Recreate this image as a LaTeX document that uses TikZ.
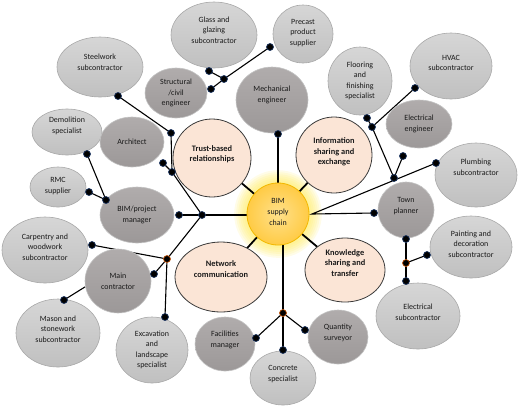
\documentclass[tikz,border=0pt]{standalone}
\usepackage{fontspec}
\setmainfont{Carlito}
\usetikzlibrary{shapes.geometric}
\definecolor{lgtop}{HTML}{D6D6D6}
\definecolor{lgbot}{HTML}{C0C0C0}
\definecolor{lgline}{HTML}{A8A8A8}
\definecolor{dgtop}{HTML}{B0ACAC}
\definecolor{dgbot}{HTML}{9C9898}
\definecolor{dgline}{HTML}{C4C4C4}
\definecolor{pcfill}{HTML}{FBE5D6}
\definecolor{pcline}{HTML}{3A3A3A}
\definecolor{bimin}{HTML}{FFE08A}
\definecolor{bimout}{HTML}{FFCB45}
\definecolor{bimline}{HTML}{F2B800}
\definecolor{glowc}{HTML}{FFE94D}
\definecolor{txtc}{HTML}{1A1A1A}
\definecolor{dotline}{HTML}{1F3864}
\definecolor{jline}{HTML}{C55A11}
\pgfdeclarelayer{glowl}
\pgfdeclarelayer{lines}
\pgfsetlayers{glowl,lines,main}
\newcommand\myell[8]{\node[#1,minimum width={2*#5 bp},minimum height={2*#6 bp},label={[txt#1,yshift=#7pt]center:{#8}}] (#2) at (#3,#4) {};}
\begin{document}
\begin{tikzpicture}[x=1bp,y=-1bp,
  base/.style={ellipse,inner sep=0pt,line width=0.6pt},
  lg/.style={base,draw=lgline,top color=lgtop,bottom color=lgbot},
  dg/.style={base,draw=dgline,top color=dgtop,bottom color=dgbot},
  pc/.style={base,draw=pcline,fill=pcfill,line width=0.8pt},
  txtlg/.style={align=center,font=\fontsize{8}{10.6}\selectfont,text=txtc,inner sep=0pt},
  txtdg/.style={txtlg},
  txtpc/.style={align=center,font=\fontsize{8.4}{10.6}\selectfont\bfseries,text=txtc,inner sep=0pt},
  txtbim/.style={txtlg},
  dot/.style={circle,fill=black,draw=dotline,line width=0.7pt,minimum size=7bp,inner sep=0pt},
  jdot/.style={dot,draw=jline},
  conn/.style={line width=1.1pt,black},
  tconn/.style={line width=1.8pt,black}]
\useasboundingbox (0,0) rectangle (520,407);

% outer light grey
\myell{lg}{glass}{214}{35}{43}{33}{5}{Glass and\\glazing\\subcontractor}
\myell{lg}{precast}{303}{34}{30}{29}{1}{Precast\\product\\supplier}
\myell{lg}{steel}{100}{67}{43}{30}{5}{Steelwork\\subcontractor}
\myell{lg}{demol}{67}{132}{35}{23}{6}{Demolition\\specialist}
\myell{lg}{rmc}{58}{187}{28}{20}{1}{RMC\\supplier}
\myell{lg}{carp}{45}{250}{43}{33}{3}{Carpentry and\\woodwork\\subcontractor}
\myell{lg}{mason}{58}{333}{42}{34}{4}{Mason and\\stonework\\subcontractor}
\myell{lg}{excav}{152}{350}{36}{33}{0}{Excavation\\and\\landscape\\specialist}
\myell{lg}{conc}{283}{378}{33}{27}{4}{Concrete\\specialist}
\myell{lg}{elecsub}{418}{316}{42}{33}{4}{Electrical\\subcontractor}
\myell{lg}{paint}{471}{247}{41}{31}{3}{Painting and\\decoration\\subcontractor}
\myell{lg}{plumb}{476}{175}{41}{32}{8}{Plumbing\\subcontractor}
\myell{lg}{hvac}{451}{66}{41}{33}{3}{HVAC\\subcontractor}
\myell{lg}{floor}{360}{81}{32}{34}{0}{Flooring\\and\\finishing\\specialist}

% inner dark grey
\myell{dg}{struct}{176}{93}{31}{25}{0}{Structural\\/civil\\engineer}
\myell{dg}{mech}{272}{100}{36}{33}{5}{Mechanical\\engineer}
\myell{dg}{arch}{132}{142}{32}{25}{0}{Architect}
\myell{dg}{bimpm}{137}{215}{37}{28}{0}{BIM/project\\manager}
\myell{dg}{main}{118}{281}{33}{32}{0}{Main\\contractor}
\myell{dg}{facil}{225}{344}{30}{27}{4}{Facilities\\manager}
\myell{dg}{qs}{338}{337}{30}{27}{4}{Quantity\\surveyor}
\myell{dg}{town}{406}{210}{28}{28}{4}{Town\\planner}
\myell{dg}{eleng}{419}{124}{33}{24}{0}{Electrical\\engineer}

% peach
\myell{pc}{trust}{212}{158}{39}{39}{4}{Trust-based\\relationships}
\myell{pc}{info}{334}{155}{38}{38}{3}{Information\\sharing and\\exchange}
\myell{pc}{netw}{221}{277}{46}{35}{8}{Network\\communication}
\myell{pc}{know}{345}{270}{40}{32}{7}{Knowledge\\sharing and\\transfer}

% centre
\node[circle,minimum size=62bp,inner sep=0pt,draw=bimline,line width=0.8pt,inner color=bimin,outer color=bimout,
  label={[txtbim,yshift=2pt]center:{BIM\\supply\\chain}}] (bim) at (278,214) {};
\begin{pgfonlayer}{glowl}
\foreach \r in {32,34,...,44} \fill[glowc,opacity=0.13] (bim.center) circle[radius=\r pt];
\end{pgfonlayer}

% dots
\node[dot] (dglass) at (209,71) {};
\node[dot] (jtop) at (224,79) {};
\node[dot] (dstructtr) at (211,89) {};
\node[dot] (dprecast) at (270,47) {};
\node[dot] (dsteel) at (118,96) {};
\node[dot] (dstructb) at (171,133) {};
\node[dot] (jarch) at (172,172) {};
\node[dot] (darch) at (163,163) {};
\node[dot] (jleft) at (202,215) {};
\node[dot] (dbimpm) at (179,215) {};
\node[dot] (ddemol) at (87,154) {};
\node[dot] (drmc) at (89,192) {};
\node[dot] (dbimpmtl) at (106,200) {};
\node[dot] (dcarp) at (92,245) {};
\node[jdot] (jlowleft) at (167,259) {};
\node[dot] (dmain) at (154,274) {};
\node[dot] (dexcav) at (165,317) {};
\node[dot] (dmason) at (64,300) {};
\node[dot] (dmech) at (278,134) {};
\node[jdot] (jbot) at (283,313) {};
\node[dot] (dfacil) at (256,338) {};
\node[dot] (dqs) at (305,330) {};
\node[dot] (dconc) at (283,350) {};
\coordinate (rstart) at (312,214);
\node[dot] (dtown) at (374,213) {};
\node[dot] (dplumb) at (436,163) {};
\node[dot] (je) at (394,178) {};
\node[dot] (deleng) at (403,156) {};
\node[dot] (jf) at (372,127) {};
\node[dot] (dfloor) at (367,118) {};
\node[dot] (dhvac) at (415,88) {};
\node[dot] (dtownb) at (406,239) {};
\node[jdot] (jr) at (406,263) {};
\node[dot] (dpaint) at (427,255) {};
\node[dot] (delecsub) at (406,281) {};

\begin{pgfonlayer}{lines}
\draw[tconn] (trust.center) -- (bim.center);
\draw[tconn] (info.center) -- (bim.center);
\draw[tconn] (netw.center) -- (bim.center);
\draw[tconn] (know.center) -- (bim.center);
\draw[conn] (dglass.center) -- (jtop.center) -- (dstructtr.center);
\draw[conn] (jtop.center) -- (dprecast.center);
\draw[conn] (dsteel.center) -- (dstructb.center) -- (jarch.center) -- (jleft.center);
\draw[conn] (darch.center) -- (jarch.center);
\draw[conn] (dbimpm.center) -- (jleft.center) -- (jleft.center -| bim.center);
\draw[conn] (ddemol.center) -- (dbimpmtl.center) -- (drmc.center);
\draw[conn] (dcarp.center) -- (jlowleft.center) -- (jleft.center);
\draw[conn] (dmain.center) -- (jlowleft.center) -- (dexcav.center);
\draw[conn] (dmason.center) -- (main.190);
\draw[conn] (dmech.center) -- (dmech.center |- bim.center);
\draw[conn] (jbot.center) -- (jbot.center |- bim.center);
\draw[conn] (dfacil.center) -- (jbot.center) -- (dqs.center);
\draw[conn] (jbot.center) -- (dconc.center);
\draw[conn] (dtown.center) -- (rstart) -- (dplumb.center);
\draw[conn] (deleng.center) -- (je.center) -- (jf.center) -- (dfloor.center);
\draw[conn] (jf.center) -- (dhvac.center);
\draw[conn] (dtownb.center) -- (jr.center) -- (delecsub.center);
\draw[conn] (jr.center) -- (dpaint.center);
\end{pgfonlayer}
\end{tikzpicture}
\end{document}
